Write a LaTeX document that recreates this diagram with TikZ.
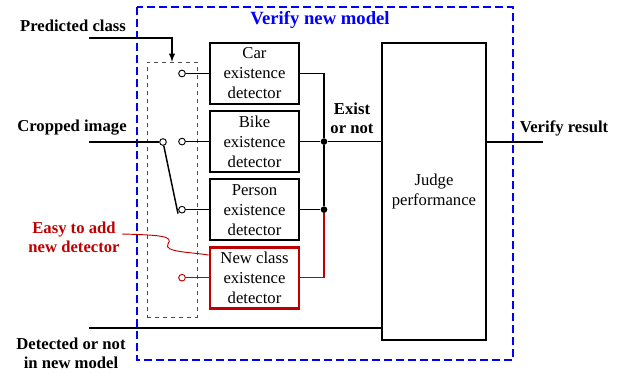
\documentclass[tikz,border=0pt]{standalone}
\usepackage{fontspec}
\setmainfont{Liberation Serif}
\usetikzlibrary{positioning, calc}

\definecolor{newred}{RGB}{192,0,0}

\begin{document}
\begin{tikzpicture}[x=0.75pt, y=-0.75pt,
    detbox/.style={draw, line width=2pt, minimum width=66.75pt, minimum height=45.75pt,
      align=center, inner sep=1pt, font=\fontsize{12.5}{15}\selectfont},
    wire/.style={line width=1.1pt},
    lbl/.style={font=\fontsize{12.5}{14.5}\selectfont\bfseries, align=center},
    term/.style={circle, draw, fill=white, inner sep=0pt, minimum size=5pt, line width=0.7pt},
    joint/.style={circle, fill, inner sep=0pt, minimum size=5pt}]
    \useasboundingbox (0,0) rectangle (621,372);

    % Outer module frame
    \draw[blue, line width=1.7pt, dash pattern=on 6pt off 3pt] (137,7) rectangle (513,360);
    \node[lbl, blue, font=\fontsize{14}{16}\selectfont\bfseries] (title) at (320,20) {Verify new model};

    % Selector switch
    \node[draw, dashed, gray!60!black, minimum width=37.5pt, minimum height=191.25pt] (switch) at (172,189.5) {};

    % Detectors
    \node[detbox] (car) at (254.5,73.5) {Car\\existence\\detector};
    \node[detbox, below=3.3pt of car] (bike) {Bike\\existence\\detector};
    \node[detbox, below=3.3pt of bike] (person) {Person\\existence\\detector};
    \node[detbox, draw=newred, below=3.3pt of person] (newcls) {New class\\existence\\detector};

    \node[draw, line width=2pt, minimum width=78pt, minimum height=222.75pt, align=center,
      font=\fontsize{12.5}{15}\selectfont] (judge) at (434,191.5) {Judge\\performance};

    % Switch terminals
    \coordinate (swx) at (182,0);
    \node[term] (tcar) at (car -| swx) {};
    \node[term] (tbike) at (bike -| swx) {};
    \node[term] (tperson) at (person -| swx) {};
    \node[term, draw=newred] (tnew) at (newcls -| swx) {};
    \node[term] (pivot) at (163,142) {};
    \coordinate (armend) at ([xshift=-3pt, yshift=-3pt]tperson.center);

    \draw[wire] (tcar) -- (car);
    \draw[wire] (tbike) -- (bike);
    \draw[wire] (tperson) -- (person);
    \draw[wire, newred] (tnew) -- (newcls);
    \draw[wire] (pivot) -- (armend);

    % Inputs
    \node[lbl] (pred) at (73,26) {Predicted class};
    \coordinate (predin) at (89,38);
    \draw[wire, -latex] (predin) -- (predin -| switch.north) -- (switch.north);

    \node[lbl] (crop) at (72,128) {Cropped image};
    \coordinate (cropin) at (89,142);
    \draw[wire] (cropin) -- (pivot);

    \node[lbl] (det) at (71,353) {Detected or not\\in new model};
    \coordinate (detin) at (89,328);
    \draw[wire] (detin) -- (detin -| judge.west);

    % Detector outputs merged onto one bus
    \coordinate (bus) at (324,0);
    \node[joint] (jtop) at (bike.east -| bus) {};
    \node[joint] (jbot) at (person.east -| bus) {};
    \draw[wire] (car.east) -- (car.east -| bus) -- (jtop);
    \draw[wire] (bike.east) -- (jtop) -- (jtop -| judge.west);
    \draw[wire] (person.east) -- (jbot) -- (jtop);
    \draw[wire, newred] (newcls.east) -- (newcls.east -| bus) -- (jbot);
    \node[lbl] (exist) at (352,118) {Exist\\or not};

    % Result
    \coordinate (outend) at (543,142);
    \draw[wire] (judge.east |- outend) -- (outend);
    \node[lbl] (result) at (564,128) {Verify result};

    % Note on the extra detector
    \node[lbl, newred] (easy) at (74,237) {Easy to add\\new detector};
    \coordinate (noteend) at ([yshift=17pt]newcls.west);
    \draw[newred, line width=0.7pt] (122,234) .. controls (160,235) and (174,236) .. (168,244)
      .. controls (163,252) and (190,252) .. (noteend);
\end{tikzpicture}
\end{document}
